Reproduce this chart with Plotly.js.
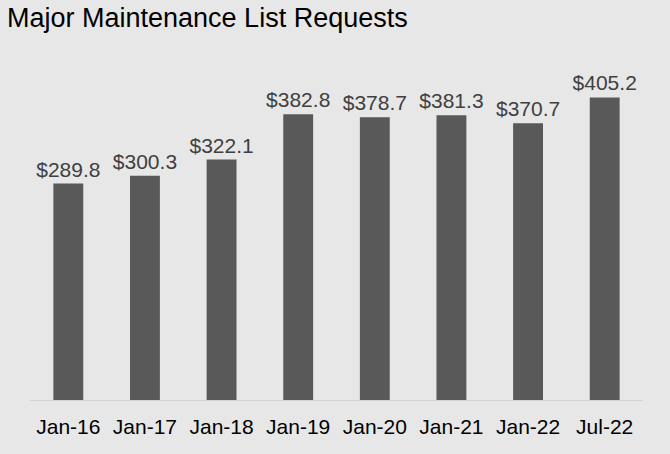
<!DOCTYPE html>
<html>
<head>
<meta charset="utf-8">
<script src="https://cdn.plot.ly/plotly-3.0.1.min.js"></script>
<style>html,body{margin:0;padding:0;background:#e7e7e7;}#chart{width:670px;height:454px;}</style>
</head>
<body>
<div id="chart"></div>
<script>
const categories = ["Jan-16", "Jan-17", "Jan-18", "Jan-19", "Jan-20", "Jan-21", "Jan-22", "Jul-22"];
const values = [289.8, 300.3, 322.1, 382.8, 378.7, 381.3, 370.7, 405.2];
const labels = values.map(v => "$" + v.toFixed(1));

const trace = {
  type: "bar",
  x: categories,
  y: values,
  text: labels,
  textposition: "outside",
  constraintext: "none",
  cliponaxis: false,
  textfont: {family: "Liberation Sans, Arial, sans-serif", size: 21, color: "#404040"},
  marker: {color: "#595959"},
  hoverinfo: "none"
};

const layout = {
  width: 670,
  height: 454,
  paper_bgcolor: "#e7e7e7",
  plot_bgcolor: "#e7e7e7",
  margin: {l: 30, r: 27, t: 64, b: 54},
  bargap: 0.61,
  showlegend: false,
  font: {family: "Liberation Sans, Arial, sans-serif", color: "#000"},
  title: {
    text: "Major Maintenance List Requests",
    font: {family: "Liberation Sans, Arial, sans-serif", size: 27, color: "#000"},
    x: 7 / 670, xanchor: "left", xref: "container",
    y: 1 - 18 / 454, yanchor: "middle", yref: "container"
  },
  xaxis: {
    type: "category",
    showline: true,
    linecolor: "#d2d2d2",
    linewidth: 1,
    showgrid: false,
    zeroline: false,
    ticks: "",
    ticklabelstandoff: 8,
    tickfont: {family: "Liberation Sans, Arial, sans-serif", size: 21, color: "#000"}
  },
  yaxis: {
    range: [0, 450],
    visible: false,
    showgrid: false,
    zeroline: false
  }
};

Plotly.newPlot("chart", [trace], layout, {displayModeBar: false, staticPlot: true});
</script>
</body>
</html>
